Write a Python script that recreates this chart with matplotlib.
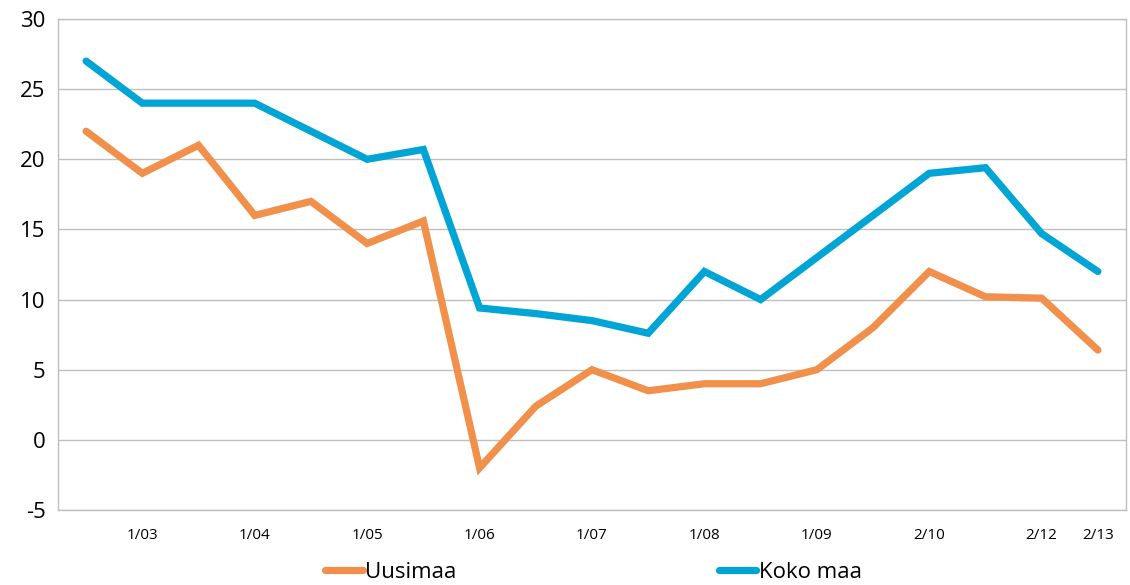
import matplotlib
matplotlib.use('Agg')
from matplotlib import pyplot as plt
from matplotlib.lines import Line2D

labels = ['', '1/03', '', '1/04', '', '1/05', '', '1/06', '', '1/07', '',
          '1/08', '', '1/09', '', '2/10', '', '2/12', '2/13']
uusimaa = [22, 19, 21, 16, 17, 14, 15.6, -2, 2.4, 5, 3.5, 4, 4, 5, 8, 12, 10.2, 10.1, 6.4]
koko_maa = [27, 24, 24, 24, 22, 20, 20.7, 9.4, 9, 8.5, 7.6, 12, 10, 13, 16, 19, 19.4, 14.7, 12]

orange = '#F0904A'
blue = '#00A5D6'

plt.rcParams['font.family'] = ['Open Sans', 'DejaVu Sans']

fig = plt.figure(figsize=(11.3, 5.85), dpi=100)
ax = fig.add_axes([58 / 1130, 75 / 585, 1068 / 1130, 491 / 585])

x = list(range(len(labels)))
ax.plot(x, uusimaa, color=orange, linewidth=5.2, solid_joinstyle='miter', solid_capstyle='round')
ax.plot(x, koko_maa, color=blue, linewidth=5.2, solid_joinstyle='miter', solid_capstyle='round')

ax.set_xlim(-0.5, len(labels) - 0.5)
ax.set_ylim(-5, 30)
ax.set_yticks(range(-5, 31, 5))
ax.set_yticklabels([str(v) for v in range(-5, 31, 5)], fontsize=16)
ax.set_xticks(x)
ax.set_xticklabels(labels, fontsize=11)
ax.tick_params(length=0)
ax.tick_params(axis='x', pad=13)
ax.tick_params(axis='y', pad=9)
ax.grid(axis='y', color='#BFBFBF', linewidth=1)
ax.set_axisbelow(True)
for s in ax.spines.values():
    s.set_color('#BFBFBF')
    s.set_linewidth(1)

handles = [Line2D([], [], color=orange, linewidth=5.2, solid_capstyle='round'),
           Line2D([], [], color=blue, linewidth=5.2, solid_capstyle='round')]
fig.legend(handles, ['Uusimaa', 'Koko maa'], loc='lower center', bbox_to_anchor=(0.525, -0.03),
           ncol=2, frameon=False, fontsize=16, handlelength=1.7, handletextpad=0.1,
           columnspacing=11.8)

fig.savefig('out.png', dpi=100)
